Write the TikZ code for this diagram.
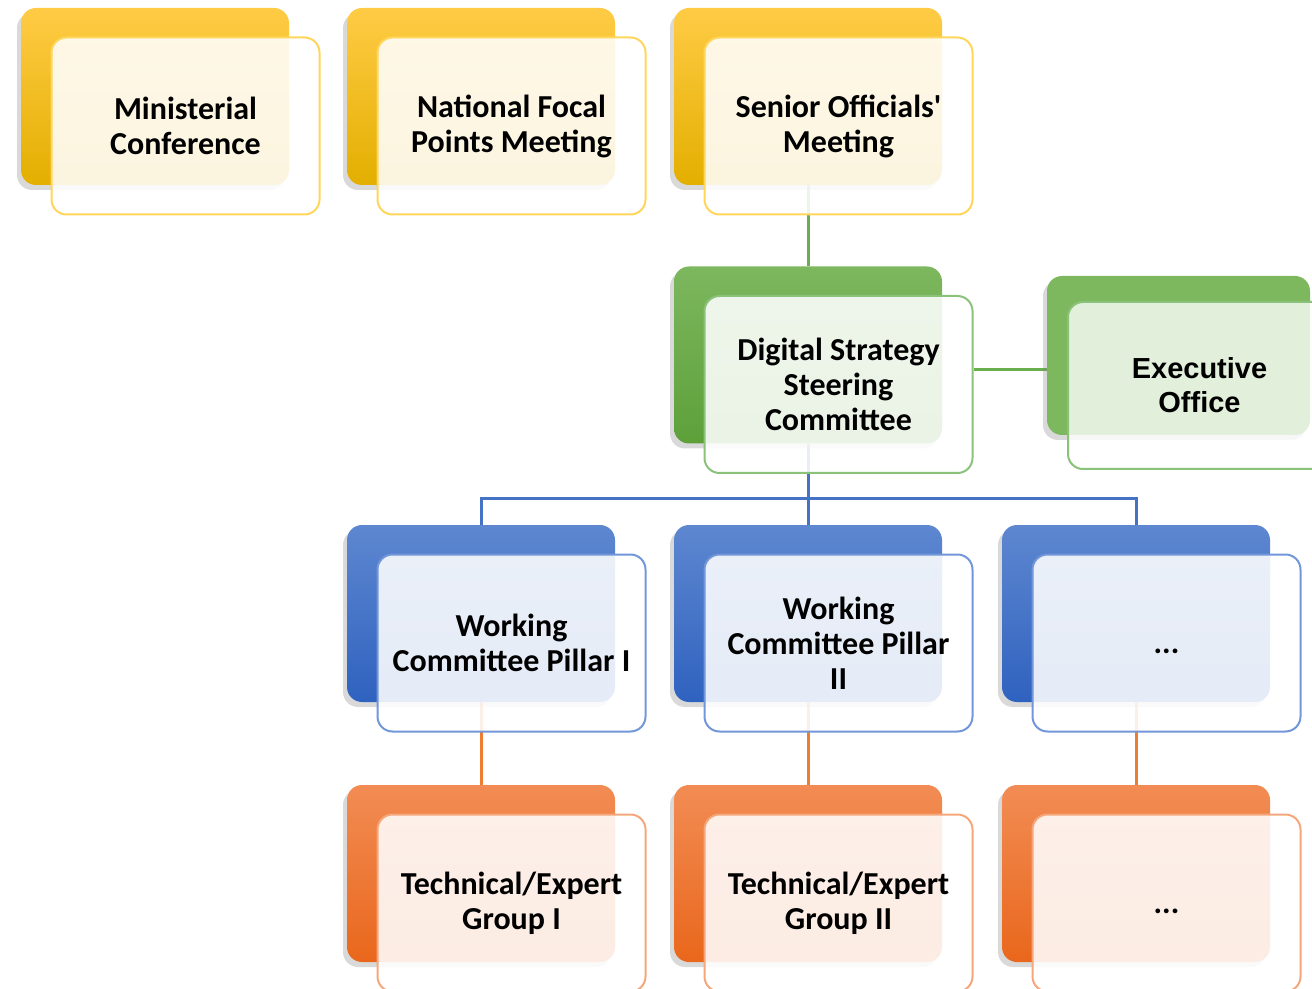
\documentclass[tikz,border=0pt]{standalone}
\usepackage{fontspec}
\setmainfont{Carlito}
\newfontfamily\arialfont{Liberation Sans}
\usetikzlibrary{positioning, backgrounds, calc, shadows}

\definecolor{goldtop}{HTML}{FFCB45}
\definecolor{goldbot}{HTML}{E3AF00}
\definecolor{goldline}{HTML}{FFD55A}
\definecolor{greentop}{HTML}{7DB75E}
\definecolor{greenbot}{HTML}{5DA03A}
\definecolor{greenline}{HTML}{8BC27A}
\definecolor{bluetop}{HTML}{5E87D0}
\definecolor{bluebot}{HTML}{2F62BF}
\definecolor{blueline}{HTML}{7196D9}
\definecolor{orangetop}{HTML}{F28C54}
\definecolor{orangebot}{HTML}{E9671C}
\definecolor{orangeline}{HTML}{F5A77B}
\definecolor{greenlink}{HTML}{6AAE4E}
\definecolor{bluelink}{HTML}{4472C4}
\definecolor{orangelink}{HTML}{ED7D31}

\tikzset{
    backcard/.style={rounded corners=7.5pt, minimum width=134pt, minimum height=88.5pt,
        top color=#1top, bottom color=#1bot,
        drop shadow={shadow xshift=-2pt, shadow yshift=-2.5pt, opacity=0.3}},
    frontcard/.style={rounded corners=7.5pt, minimum width=134pt, minimum height=88.5pt,
        draw=#1line, line width=1pt, fill=white, fill opacity=0.88, text opacity=1,
        align=center, font=\fontsize{16}{17.5}\selectfont\bfseries},
    link/.style={draw=#1, line width=1.5pt},
}

\begin{document}
\begin{tikzpicture}[x=0.5pt, y=-0.5pt]
    \useasboundingbox (0,0) rectangle (1312,989);

    % top row
    \node[backcard=gold] (mcB) at (155,96.5) {};
    \node[frontcard=gold] (mc) at ([shift={(30.5,29.5)}]mcB.center) {Ministerial\\Conference};
    \node[backcard=gold] (nfpB) at (481,96.5) {};
    \node[frontcard=gold] (nfp) at ([shift={(30.5,29.5)}]nfpB.center) {National Focal\\Points Meeting};
    \node[backcard=gold] (soB) at (808,96.5) {};
    \node[frontcard=gold] (so) at ([shift={(30.5,29.5)}]soB.center) {Senior Officials\textquotesingle\\Meeting};

    % steering committee and executive office
    \node[backcard=green] (dsscB) at (808,355) {};
    \node[frontcard=green] (dssc) at ([shift={(30.5,29.5)}]dsscB.center) {Digital Strategy\\Steering\\Committee};
    \node[backcard=green, bottom color=greentop, minimum width=131.5pt, minimum height=79.5pt] (execB) at (1178.5,355.5) {};
    \node[frontcard=green, fill opacity=0.78, minimum width=131.5pt, minimum height=83.5pt,
        font=\arialfont\fontsize{14.5}{17}\selectfont\bfseries] (exec) at (1199.5,385.5) {Executive\\Office};

    % working committees
    \node[backcard=blue] (wc1B) at (481,613.5) {};
    \node[frontcard=blue] (wc1) at ([shift={(30.5,29.5)}]wc1B.center) {Working\\Committee Pillar I};
    \node[backcard=blue] (wc2B) at (808,613.5) {};
    \node[frontcard=blue] (wc2) at ([shift={(30.5,29.5)}]wc2B.center) {Working\\Committee Pillar\\II};
    \node[backcard=blue] (wc3B) at (1136,613.5) {};
    \node[frontcard=blue, text height=10pt, text depth=0pt] (wc3) at ([shift={(30.5,29.5)}]wc3B.center) {...};

    % technical groups
    \node[backcard=orange] (teg1B) at (481,873.5) {};
    \node[frontcard=orange] (teg1) at ([shift={(30.5,29.5)}]teg1B.center) {Technical/Expert\\Group I};
    \node[backcard=orange] (teg2B) at (808,873.5) {};
    \node[frontcard=orange] (teg2) at ([shift={(30.5,29.5)}]teg2B.center) {Technical/Expert\\Group II};
    \node[backcard=orange] (teg3B) at (1136,873.5) {};
    \node[frontcard=orange, text height=10pt, text depth=0pt] (teg3) at ([shift={(30.5,29.5)}]teg3B.center) {...};

    % connectors
    \begin{scope}[on background layer]
        \draw[link=greenlink] (soB.south) -- (dsscB.north);
        \draw[link=greenlink] ([yshift=7.5pt]dssc.east) -- ([yshift=7.5pt]dssc.east -| execB.west);
        \draw[link=bluelink] (dsscB.south) -- (wc2B.north);
        \draw[link=bluelink] (wc1B.north) -- ++(0,-26) -| (wc3B.north);
        \draw[link=orangelink] (wc1B.south) -- (teg1B.north);
        \draw[link=orangelink] (wc2B.south) -- (teg2B.north);
        \draw[link=orangelink] (wc3B.south) -- (teg3B.north);
    \end{scope}
\end{tikzpicture}
\end{document}
